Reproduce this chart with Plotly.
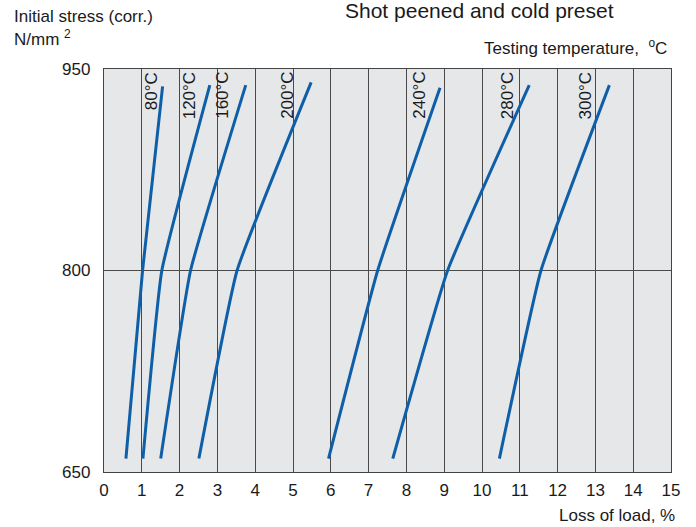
import plotly.graph_objects as go

# ---- data ----
temperatures = ["80°C", "120°C", "160°C", "200°C", "240°C", "280°C", "300°C"]
loss_80 = [0.58, 1.02, 1.55]
loss_120 = [1.03, 1.53, 2.80]
loss_160 = [1.50, 2.29, 3.75]
loss_200 = [2.51, 3.52, 5.48]
loss_240 = [5.94, 7.24, 8.89]
loss_280 = [7.64, 9.09, 11.25]
loss_300 = [10.46, 11.56, 13.37]
stress_80 = [660, 800, 937]
stress_120 = [660, 800, 938]
stress_160 = [660, 800, 938]
stress_200 = [660, 800, 940]
stress_240 = [660, 800, 936]
stress_280 = [660, 800, 938]
stress_300 = [660, 800, 938]
label_x = [1.25, 2.27, 3.13, 4.85, 8.34, 10.68, 12.75]

x_ticks = list(range(0, 16))
y_ticks = [650, 800, 950]

losses = [loss_80, loss_120, loss_160, loss_200, loss_240, loss_280, loss_300]
stresses = [stress_80, stress_120, stress_160, stress_200, stress_240, stress_280, stress_300]

FONT = "Liberation Sans, Arial, sans-serif"
TXT = "#1a1a1a"
BLUE = "#0f5fa8"

fig = go.Figure()
for name, xs, ys in zip(temperatures, losses, stresses):
    fig.add_trace(go.Scatter(
        x=xs, y=ys, mode="lines", name=name,
        line=dict(color=BLUE, width=3, shape="spline", smoothing=0.35),
        showlegend=False, hoverinfo="skip",
    ))

annotations = []
for name, lx in zip(temperatures, label_x):
    annotations.append(dict(
        x=lx, y=950, xref="x", yref="y", text=name, textangle=-90,
        showarrow=False, xanchor="center", yanchor="top", yshift=-1,
        font=dict(family=FONT, size=17, color=TXT),
    ))

# paper coords: x 0->104px, 1->671px ; y 0->472px, 1->69px
annotations += [
    dict(x=0.663, y=1.178, xref="paper", yref="paper", text="Shot peened and cold preset",
         showarrow=False, xanchor="center", yanchor="top",
         font=dict(family=FONT, size=21, color=TXT)),
    dict(x=0.997, y=1.055, xref="paper", yref="paper", text="Testing temperature,  <sup>o</sup>C",
         showarrow=False, xanchor="right", yanchor="middle",
         font=dict(family=FONT, size=17, color=TXT)),
    dict(x=1.01, y=-0.107, xref="paper", yref="paper", text="Loss of load, %",
         showarrow=False, xanchor="right", yanchor="middle",
         font=dict(family=FONT, size=17, color=TXT)),
    dict(x=-0.162, y=1.13, xref="paper", yref="paper", text="Initial stress (corr.)",
         showarrow=False, xanchor="left", yanchor="middle",
         font=dict(family=FONT, size=17, color=TXT)),
    dict(x=-0.162, y=1.078, xref="paper", yref="paper", text="N/mm <sup>2</sup>",
         showarrow=False, xanchor="left", yanchor="middle",
         font=dict(family=FONT, size=17, color=TXT)),
]

fig.update_layout(
    width=696, height=527,
    margin=dict(l=104, r=25, t=69, b=55),
    paper_bgcolor="white",
    plot_bgcolor="#e6e7e9",
    annotations=annotations,
    font=dict(family=FONT, size=17, color=TXT),
)
fig.update_xaxes(
    range=[0, 15], tickvals=x_ticks, ticktext=[str(v) for v in x_ticks],
    showgrid=True, gridcolor="#4a4a4a", gridwidth=1,
    showline=True, linecolor="#444", linewidth=1.3, mirror=True,
    zeroline=False, ticks="", ticklabelstandoff=2,
    tickfont=dict(family=FONT, size=17, color=TXT),
)
fig.update_yaxes(
    range=[650, 950], tickvals=y_ticks, ticktext=[str(v) for v in y_ticks],
    showgrid=True, gridcolor="#4a4a4a", gridwidth=1.3,
    showline=True, linecolor="#444", linewidth=1.3, mirror=True,
    zeroline=False, ticks="", ticklabelstandoff=9,
    tickfont=dict(family=FONT, size=17, color=TXT),
)

fig.write_html("out.html", config={"displayModeBar": False},
               post_script="document.body.style.margin='0';")
